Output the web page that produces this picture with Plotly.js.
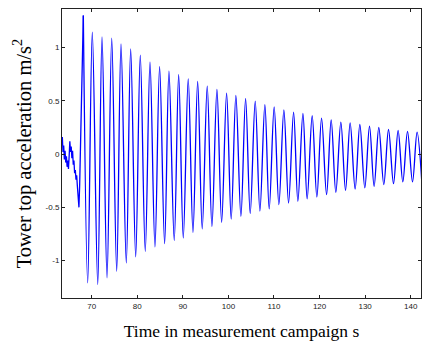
<!DOCTYPE html>
<html>
<head>
<meta charset="utf-8">
<script src="https://cdn.plot.ly/plotly-3.0.1.min.js"></script>
<style>html,body{margin:0;padding:0;background:#fff;}#plot{width:422px;height:347px;}</style>
</head>
<body>
<div id="plot"></div>
<script>
// Pre-release noisy segment (time s, acceleration m/s^2)
const preTime = [63.55, 63.7, 63.85, 64.0, 64.15, 64.3, 64.45, 64.6, 64.75, 64.9, 65.05, 65.2, 65.35, 65.5, 65.65, 65.8, 65.95, 66.1, 66.25, 66.4, 66.55, 66.7, 66.85, 67.0, 67.1, 67.2, 67.35, 67.5, 67.65, 67.75, 67.85, 68.0];
const preAcc  = [0.16, 0.02, 0.08, -0.05, 0.03, -0.08, -0.02, -0.12, -0.06, -0.14, -0.02, 0.12, 0.02, 0.07, -0.04, 0.03, -0.10, -0.06, -0.18, -0.15, -0.24, -0.20, -0.30, -0.38, -0.46, -0.50, -0.30, 0.00, 0.35, 0.60, 0.62, 1.00];

// Free-decay peaks and troughs
const peakTime = [68.16, 70.13, 72.26, 74.39, 76.43, 78.55, 80.66, 82.79, 84.90, 86.95, 89.08, 91.18, 93.25, 95.35, 97.48, 99.60, 101.64, 103.77, 105.88, 108.00, 110.04, 112.17, 114.30, 116.35, 118.38, 120.44, 122.55, 124.67, 126.71, 128.84, 130.96, 133.00, 135.13, 137.24, 139.30, 141.40];
const peakAcc  = [1.30, 1.142, 1.098, 1.086, 1.033, 0.986, 0.927, 0.861, 0.820, 0.777, 0.745, 0.705, 0.680, 0.637, 0.605, 0.571, 0.549, 0.521, 0.496, 0.464, 0.443, 0.415, 0.393, 0.380, 0.359, 0.337, 0.321, 0.300, 0.293, 0.277, 0.262, 0.249, 0.230, 0.221, 0.212, 0.206];
const troughTime = [69.12, 71.32, 73.36, 75.48, 77.59, 79.65, 81.75, 83.88, 86.00, 88.11, 90.09, 92.22, 94.25, 96.38, 98.51, 100.61, 102.74, 104.78, 106.91, 108.95, 111.07, 113.20, 115.24, 117.28, 119.41, 121.54, 123.57, 125.70, 127.81, 129.93, 131.97, 134.10, 136.23, 138.27, 140.40, 142.45];
const troughAcc  = [-1.208, -1.224, -1.161, -1.099, -1.021, -0.964, -0.912, -0.871, -0.840, -0.809, -0.787, -0.734, -0.702, -0.678, -0.640, -0.609, -0.584, -0.559, -0.534, -0.515, -0.475, -0.459, -0.444, -0.421, -0.403, -0.381, -0.360, -0.341, -0.328, -0.318, -0.303, -0.287, -0.278, -0.262, -0.262, -0.27];

const xTickVals = [70, 80, 90, 100, 110, 120, 130, 140];
const xTickText = ["70", "80", "90", "100", "110", "120", "130", "140"];
const yTickVals = [-1, -0.5, 0, 0.5, 1];
const yTickText = ["-1", "-0.5", "0", "0.5", "1"];

// Merge peaks and troughs in time order
const decay = [];
for (let i = 0; i < peakTime.length; i++) decay.push([peakTime[i], peakAcc[i]]);
for (let i = 0; i < troughTime.length; i++) decay.push([troughTime[i], troughAcc[i]]);
decay.sort((a, b) => a[0] - b[0]);

const trPre = {
  x: preTime.concat([peakTime[0]]), y: preAcc.concat([peakAcc[0]]),
  type: 'scatter', mode: 'lines',
  line: {color: '#0000ff', width: 1.3},
  hoverinfo: 'skip'
};
const trDecay = {
  x: decay.map(d => d[0]), y: decay.map(d => d[1]),
  type: 'scatter', mode: 'lines',
  line: {color: '#0000ff', width: 1.3, shape: 'spline', smoothing: 1},
  hoverinfo: 'skip'
};

const axisCommon = {
  showgrid: false, zeroline: false,
  showline: true, linecolor: '#222', linewidth: 1, mirror: 'ticks',
  ticks: 'inside', ticklen: 3, tickcolor: '#222', tickwidth: 1,
  tickfont: {family: 'Liberation Sans, Arial, sans-serif', size: 8, color: '#222'},
  tickmode: 'array'
};

const layout = {
  width: 422, height: 347,
  margin: {l: 62, r: 1, t: 9, b: 49},
  paper_bgcolor: '#fff', plot_bgcolor: '#fff',
  showlegend: false,
  xaxis: Object.assign({}, axisCommon, {
    range: [63.48, 142.26],
    tickvals: xTickVals, ticktext: xTickText,
    title: {text: 'Time in measurement campaign s', font: {family: 'Liberation Serif, Times New Roman, serif', size: 17.5, color: '#000'}, standoff: 15}
  }),
  yaxis: Object.assign({}, axisCommon, {
    range: [-1.35, 1.36],
    tickvals: yTickVals, ticktext: yTickText,
    title: {text: 'Tower top acceleration m/s<sup>2</sup>', font: {family: 'Liberation Serif, Times New Roman, serif', size: 20.5, color: '#000'}, standoff: 8}
  })
};

Plotly.newPlot('plot', [trPre, trDecay], layout, {staticPlot: true, displayModeBar: false});
</script>
</body>
</html>
